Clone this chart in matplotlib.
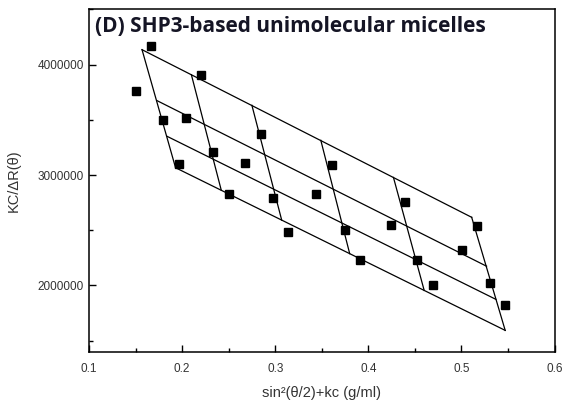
import numpy as np
import matplotlib
matplotlib.use("Agg")
import matplotlib.pyplot as plt
from matplotlib.ticker import MultipleLocator, FuncFormatter

# Measured points (Zimm plot)
x_pts = [0.150, 0.167, 0.179, 0.197, 0.204, 0.220, 0.233, 0.250, 0.268, 0.285, 0.298, 0.314,
         0.344, 0.361, 0.375, 0.391, 0.424, 0.439, 0.452, 0.469, 0.501, 0.517, 0.531, 0.547]
y_pts = [3.76e6, 4.17e6, 3.50e6, 3.10e6, 3.52e6, 3.91e6, 3.21e6, 2.83e6, 3.11e6, 3.37e6, 2.79e6, 2.48e6,
         2.83e6, 3.09e6, 2.50e6, 2.23e6, 2.55e6, 2.76e6, 2.23e6, 2.00e6, 2.32e6, 2.54e6, 2.02e6, 1.82e6]

# Grid lines: concentration lines (rows) and angle lines (columns)
row_x0 = [0.157, 0.173, 0.184, 0.193]
row_y0 = [4.135e6, 3.674e6, 3.350e6, 3.066e6]
row_x1 = [0.511, 0.527, 0.537, 0.547]
row_y1 = [2.617e6, 2.174e6, 1.874e6, 1.593e6]

col_x0 = [0.157, 0.210, 0.275, 0.349, 0.427, 0.511]
col_y0 = [4.135e6, 3.908e6, 3.631e6, 3.314e6, 2.978e6, 2.617e6]
col_x1 = [0.193, 0.242, 0.307, 0.380, 0.460, 0.547]
col_y1 = [3.066e6, 2.865e6, 2.591e6, 2.288e6, 1.955e6, 1.593e6]

title = "(D) SHP3-based unimolecular micelles"

fig = plt.figure(figsize=(5.63, 4.08), dpi=100)
ax = fig.add_axes([0.158, 0.138, 0.827, 0.839])

for i in range(len(row_x0)):
    ax.plot([row_x0[i], row_x1[i]], [row_y0[i], row_y1[i]], color="black", lw=0.9)
for j in range(len(col_x0)):
    ax.plot([col_x0[j], col_x1[j]], [col_y0[j], col_y1[j]], color="black", lw=0.9)

ax.plot(x_pts, y_pts, "s", color="black", ms=5.5, ls="none")

ax.set_xlim(0.1, 0.6)
ax.set_ylim(1.4e6, 4.5e6)
ax.xaxis.set_major_locator(MultipleLocator(0.1))
ax.xaxis.set_minor_locator(MultipleLocator(0.05))
ax.yaxis.set_major_locator(MultipleLocator(1e6))
ax.yaxis.set_minor_locator(MultipleLocator(5e5))
ax.yaxis.set_major_formatter(FuncFormatter(lambda v, p: "%d" % v))
ax.xaxis.set_major_formatter(FuncFormatter(lambda v, p: "%.1f" % v))

ax.tick_params(which="both", direction="in", top=False, right=False, colors="black",
               labelcolor="#333333", labelsize=8.5)
ax.tick_params(which="major", length=5, width=1)
ax.tick_params(which="minor", length=3, width=1)
ax.tick_params(axis="x", pad=8)
for tl in ax.get_xticklabels() + ax.get_yticklabels():
    tl.set_family("Liberation Sans")

for s in ax.spines.values():
    s.set_linewidth(1.1)

ax.set_xlabel("sin\u00b2(\u03b8/2)+kc (g/ml)", fontsize=10.5, color="#333333",
              family="Liberation Sans", labelpad=8)
ax.set_ylabel("KC/\u0394R(\u03b8)", fontsize=10.5, color="#333333",
              family="Liberation Sans", labelpad=12)

ax.text(0.012, 0.950, title, transform=ax.transAxes, fontsize=15, fontweight="bold",
        family="Open Sans", color="#151525", va="center", ha="left")

fig.savefig("out.png", dpi=100)
